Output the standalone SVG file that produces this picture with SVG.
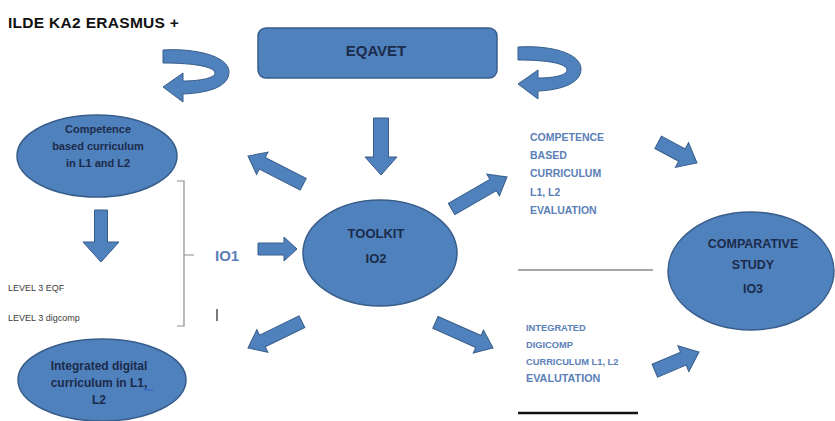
<svg xmlns="http://www.w3.org/2000/svg" width="835" height="421" viewBox="0 0 835 421">
<style>
  .shape { fill: #4f81bd; stroke: #385d8a; stroke-width: 1.5; }
  .arrow { fill: #4f81bd; stroke: #385d8a; stroke-width: 1; stroke-linejoin: miter; }
  .navy { font-family: "Liberation Sans", Arial, sans-serif; font-weight: bold; fill: #1c2b4a; text-anchor: middle; }
  .blue { font-family: "Liberation Sans", Arial, sans-serif; font-weight: bold; fill: #5b80b8; }
  .plain { font-family: "Liberation Sans", Arial, sans-serif; fill: #404040; }
  .bracket { fill: none; stroke: #8c8c8c; stroke-width: 1.2; }
</style>
<rect width="835" height="421" fill="#ffffff"/>

<text x="8" y="28" font-family="Liberation Sans, Arial, sans-serif" font-weight="bold" font-size="15.5" letter-spacing="0.3" fill="#111">ILDE KA2 ERASMUS +</text>

<g id="eqavet">
  <rect class="shape" x="258" y="28" width="239" height="50" rx="8"/>
  <text class="navy" x="376" y="56" font-size="15">EQAVET</text>
</g>

<g id="competence-curriculum">
  <ellipse class="shape" cx="97" cy="156" rx="80" ry="41"/>
  <text class="navy" font-size="11" x="98" y="133">Competence</text>
  <text class="navy" font-size="11" x="98" y="150">based curriculum</text>
  <text class="navy" font-size="11" x="98" y="167">in L1 and L2</text>
</g>

<g id="integrated-digital">
  <ellipse class="shape" cx="102" cy="380" rx="84" ry="41"/>
  <text class="navy" font-size="12" x="99" y="370">Integrated digital</text>
  <text class="navy" font-size="12" x="99" y="387">curriculum in L1,</text>
  <line x1="144" y1="390" x2="153" y2="390" stroke="#2f5fd0" stroke-width="1"/>
  <text class="navy" font-size="12" x="99" y="404">L2</text>
</g>

<g id="toolkit">
  <ellipse class="shape" cx="380" cy="253" rx="77" ry="53"/>
  <text class="navy" font-size="13" x="376" y="238">TOOLKIT</text>
  <text class="navy" font-size="13" x="376" y="263">IO2</text>
</g>

<g id="comparative">
  <ellipse class="shape" cx="751" cy="271" rx="83" ry="59"/>
  <text class="navy" font-size="12.5" x="753" y="248">COMPARATIVE</text>
  <text class="navy" font-size="12.5" x="753" y="269">STUDY</text>
  <text class="navy" font-size="12.5" x="753" y="293">IO3</text>
</g>

<g id="levels">
  <text class="plain" font-size="9" x="8" y="291">LEVEL 3 EQF</text>
  <text class="plain" font-size="9" x="8" y="321">LEVEL 3 digcomp</text>
</g>

<g id="io1">
  <path class="bracket" d="M177,181 H184 V326 H177 M184,255 H194"/>
  <text x="215" y="261" font-family="Liberation Sans, Arial, sans-serif" font-weight="bold" font-size="15" fill="#5b80b8">IO1</text>
  <line x1="217" y1="309" x2="217" y2="321" stroke="#333" stroke-width="1.3"/>
</g>

<g id="competence-evaluation">
  <text class="blue" font-size="10.5" x="530" y="141">COMPETENCE</text>
  <text class="blue" font-size="10.5" x="530" y="159">BASED</text>
  <text class="blue" font-size="10.5" x="530" y="177">CURRICULUM</text>
  <text class="blue" font-size="10.5" x="530" y="196">L1, L2</text>
  <text class="blue" font-size="10.5" x="530" y="214">EVALUATION</text>
  <line x1="518" y1="270" x2="653" y2="270" stroke="#a6a6a6" stroke-width="2"/>
</g>

<g id="digicomp-evaluation">
  <text class="blue" font-size="9.3" x="526" y="331">INTEGRATED</text>
  <text class="blue" font-size="9.3" x="526" y="348">DIGICOMP</text>
  <text class="blue" font-size="9.3" x="526" y="365">CURRICULUM L1, L2</text>
  <text class="blue" font-size="10.8" x="526" y="382">EVALUTATION</text>
  <line x1="518" y1="413" x2="638" y2="413" stroke="#111" stroke-width="2.5"/>
</g>

<g id="connectors">
  <path class="arrow" d="M163,50 C195,48 229,56 229,72 C229,86 210,93 183,94 L183,102 L163,87 L183,73 L183,81 C200,81 215,78 215,73 C215,67 195,63 163,63 Z"/>
  <path class="arrow" transform="translate(355,-3)" d="M163,50 C195,48 226,56 226,72 C226,86 207,93 183,94 L183,102 L163,87 L183,73 L183,81 C200,81 212,78 212,73 C212,67 195,63 163,63 Z"/>
  <polygon class="arrow" points="-57,-7.5 -18,-7.5 -18,-16 0,0 -18,16 -18,7.5 -57,7.5" transform="translate(381,175) rotate(90)"/>
  <polygon class="arrow" points="-52,-6.5 -20,-6.5 -20,-18 0,0 -20,18 -20,6.5 -52,6.5" transform="translate(101,262) rotate(90)"/>
  <polygon class="arrow" points="-62,-6.5 -16,-6.5 -16,-12.5 0,0 -16,12.5 -16,6.5 -62,6.5" transform="translate(248,156) rotate(207)"/>
  <polygon class="arrow" points="-39,-6 -13,-6 -13,-12 0,0 -13,12 -13,6 -39,6" transform="translate(297,249)"/>
  <polygon class="arrow" points="-60,-6.5 -16,-6.5 -16,-12.5 0,0 -16,12.5 -16,6.5 -60,6.5" transform="translate(248,348) rotate(154)"/>
  <polygon class="arrow" points="-64,-6.5 -16,-6.5 -16,-12.5 0,0 -16,12.5 -16,6.5 -64,6.5" transform="translate(507,177) rotate(-30)"/>
  <polygon class="arrow" points="-63,-6.5 -16,-6.5 -16,-12.5 0,0 -16,12.5 -16,6.5 -63,6.5" transform="translate(493,348) rotate(24)"/>
  <polygon class="arrow" points="-44,-7 -17,-7 -17,-14 0,0 -17,14 -17,7 -44,7" transform="translate(697,163) rotate(28)"/>
  <polygon class="arrow" points="-48,-7 -17,-7 -17,-14 0,0 -17,14 -17,7 -48,7" transform="translate(699,352) rotate(-23)"/>
</g>
</svg>
